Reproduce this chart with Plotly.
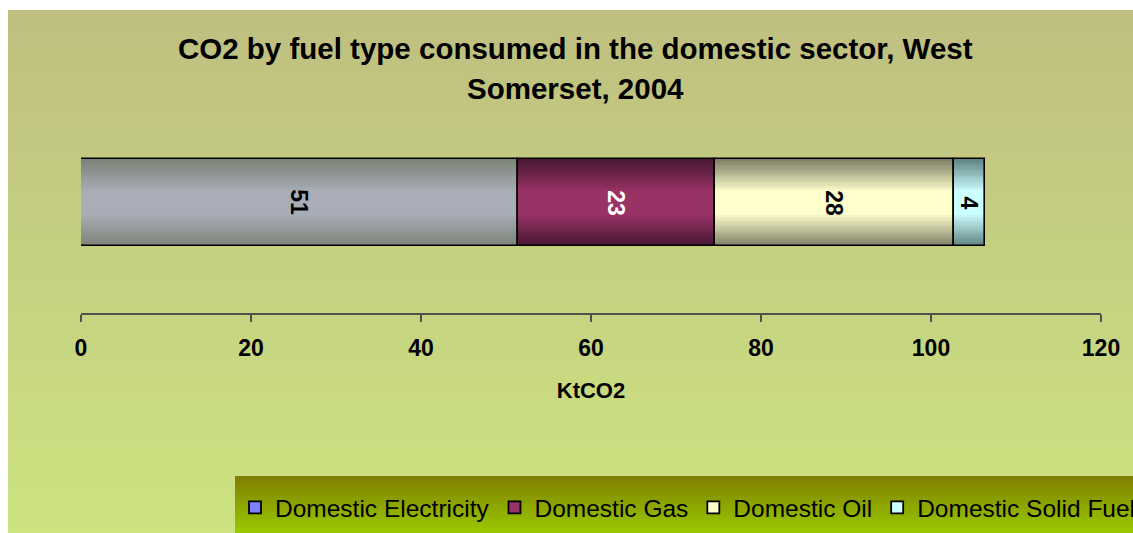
import plotly.graph_objects as go

# ---- data ----
fuel_types = ["Domestic Electricity", "Domestic Gas", "Domestic Oil", "Domestic Solid Fuel"]
values = [51.4, 23.2, 28.1, 3.6]          # KtCO2, West Somerset 2004
x_ticks = [0, 20, 40, 60, 80, 100, 120]

# ---- styles ----
center_cols = [(168, 173, 184), (153, 51, 102), (255, 255, 204), (204, 255, 255)]
edge_cols = [(126, 131, 120), (72, 24, 52), (128, 128, 104), (98, 133, 133)]
legend_cols = ["#8080FF", "#993366", "#FFFFCC", "#CCFFFF"]
label_cols = ["black", "white", "black", "black"]

W, H = 1133, 533
ML = 81
MR = W - 1101
MT = 100
MB = H - 313
PW = W - ML - MR
PH = H - MT - MB
FONT = "Liberation Sans, Arial, sans-serif"


def px_x(px):            # page pixel -> paper x
    return (px - ML) / PW


def px_y(py):            # page pixel -> paper y
    return (H - MB - py) / PH


def mix(a, b, t):
    return "rgb(%d,%d,%d)" % tuple(round(a[i] + (b[i] - a[i]) * t) for i in range(3))


fig = go.Figure()

bases = []
acc = 0.0
for v in values:
    bases.append(acc)
    acc += v

# gradient bars: layered overlays, dark edges to light centre
N = 14
for i, (name, v) in enumerate(zip(fuel_types, values)):
    for k in range(N):
        t = k / (N - 1)
        w = 1.0 - 0.72 * t
        fig.add_trace(go.Bar(
            y=[0], x=[v], base=[bases[i]], orientation="h", width=w,
            marker=dict(color=mix(edge_cols[i], center_cols[i], t), line=dict(width=0)),
            showlegend=False, hoverinfo="skip"))
# outlines
for i, v in enumerate(values):
    fig.add_trace(go.Bar(
        y=[0], x=[v], base=[bases[i]], orientation="h", width=1.0,
        marker=dict(color="rgba(0,0,0,0)", line=dict(width=1.6, color="black")),
        showlegend=False, hovertemplate="%{x}<extra></extra>"))
# legend entries
for i, name in enumerate(fuel_types):
    fig.add_trace(go.Bar(
        y=[None], x=[None], orientation="h", name=name,
        marker=dict(color=legend_cols[i], line=dict(width=1.8, color="black")),
        showlegend=True))

# value labels (rotated)
for i, v in enumerate(values):
    fig.add_annotation(
        x=bases[i] + v / 2, y=0, xref="x", yref="y", text=f"{v:.0f}",
        textangle=90, showarrow=False, xanchor="center", yanchor="middle",
        font=dict(family=FONT, size=23, color=label_cols[i], weight="bold"))

# title lines
for txt, yc in [("CO2 by fuel type consumed in the domestic sector, West", 48),
                ("Somerset, 2004", 88)]:
    fig.add_annotation(x=px_x(575), y=px_y(yc), xref="paper", yref="paper",
                       xanchor="center", yanchor="middle", text=txt, showarrow=False,
                       font=dict(family=FONT, size=29.5, color="black", weight="bold"))

# background gradient (chart area)
shapes = []
S = 70
top, bot = 10, 533
for s in range(S):
    y0 = top + (bot - top) * s / S
    y1 = top + (bot - top) * (s + 1) / S + 0.8
    shapes.append(dict(type="rect", xref="paper", yref="paper", layer="below",
                       x0=px_x(8), x1=px_x(1136), y0=px_y(min(y1, bot + 4)), y1=px_y(y0),
                       fillcolor=mix((191, 191, 128), (204, 227, 128), s / (S - 1)),
                       line=dict(width=0)))
# legend gradient box
LS = 20
ltop, lbot = 476, 533
for s in range(LS):
    y0 = ltop + (lbot - ltop) * s / LS
    y1 = ltop + (lbot - ltop) * (s + 1) / LS + 0.8
    shapes.append(dict(type="rect", xref="paper", yref="paper", layer="below",
                       x0=px_x(235), x1=px_x(1136), y0=px_y(min(y1, lbot + 4)), y1=px_y(y0),
                       fillcolor=mix((128, 128, 0), (153, 200, 0), s / (LS - 1)),
                       line=dict(width=0)))

fig.update_layout(
    width=W, height=H,
    margin=dict(l=ML, r=MR, t=MT, b=MB, pad=0, autoexpand=False),
    paper_bgcolor="white", plot_bgcolor="rgba(0,0,0,0)",
    barmode="overlay", bargap=0,
    shapes=shapes,
    showlegend=True,
    legend=dict(orientation="h", x=px_x(235), xanchor="left", y=px_y(485), yanchor="top",
                bgcolor="rgba(0,0,0,0)", font=dict(family=FONT, size=24.5, color="black"),
                itemwidth=30, traceorder="normal", tracegroupgap=0),
    xaxis=dict(range=[0, 120], tickvals=x_ticks, showgrid=False, zeroline=False,
               showline=True, linecolor="#505050", linewidth=2,
               ticks="outside", ticklen=7, tickcolor="#505050", tickwidth=1.5,
               ticklabelstandoff=6,
               tickfont=dict(family=FONT, size=23, color="black", weight="bold"),
               title=dict(text="KtCO2", standoff=23,
                          font=dict(family=FONT, size=22, color="black", weight="bold"))),
    yaxis=dict(range=[-1.26, 1.174], visible=False, fixedrange=True),
    font=dict(family=FONT),
)

fig.write_html(
    "out.html",
    config={"displayModeBar": False},
    post_script="document.body.style.margin='0';document.body.style.overflow='hidden';",
)
